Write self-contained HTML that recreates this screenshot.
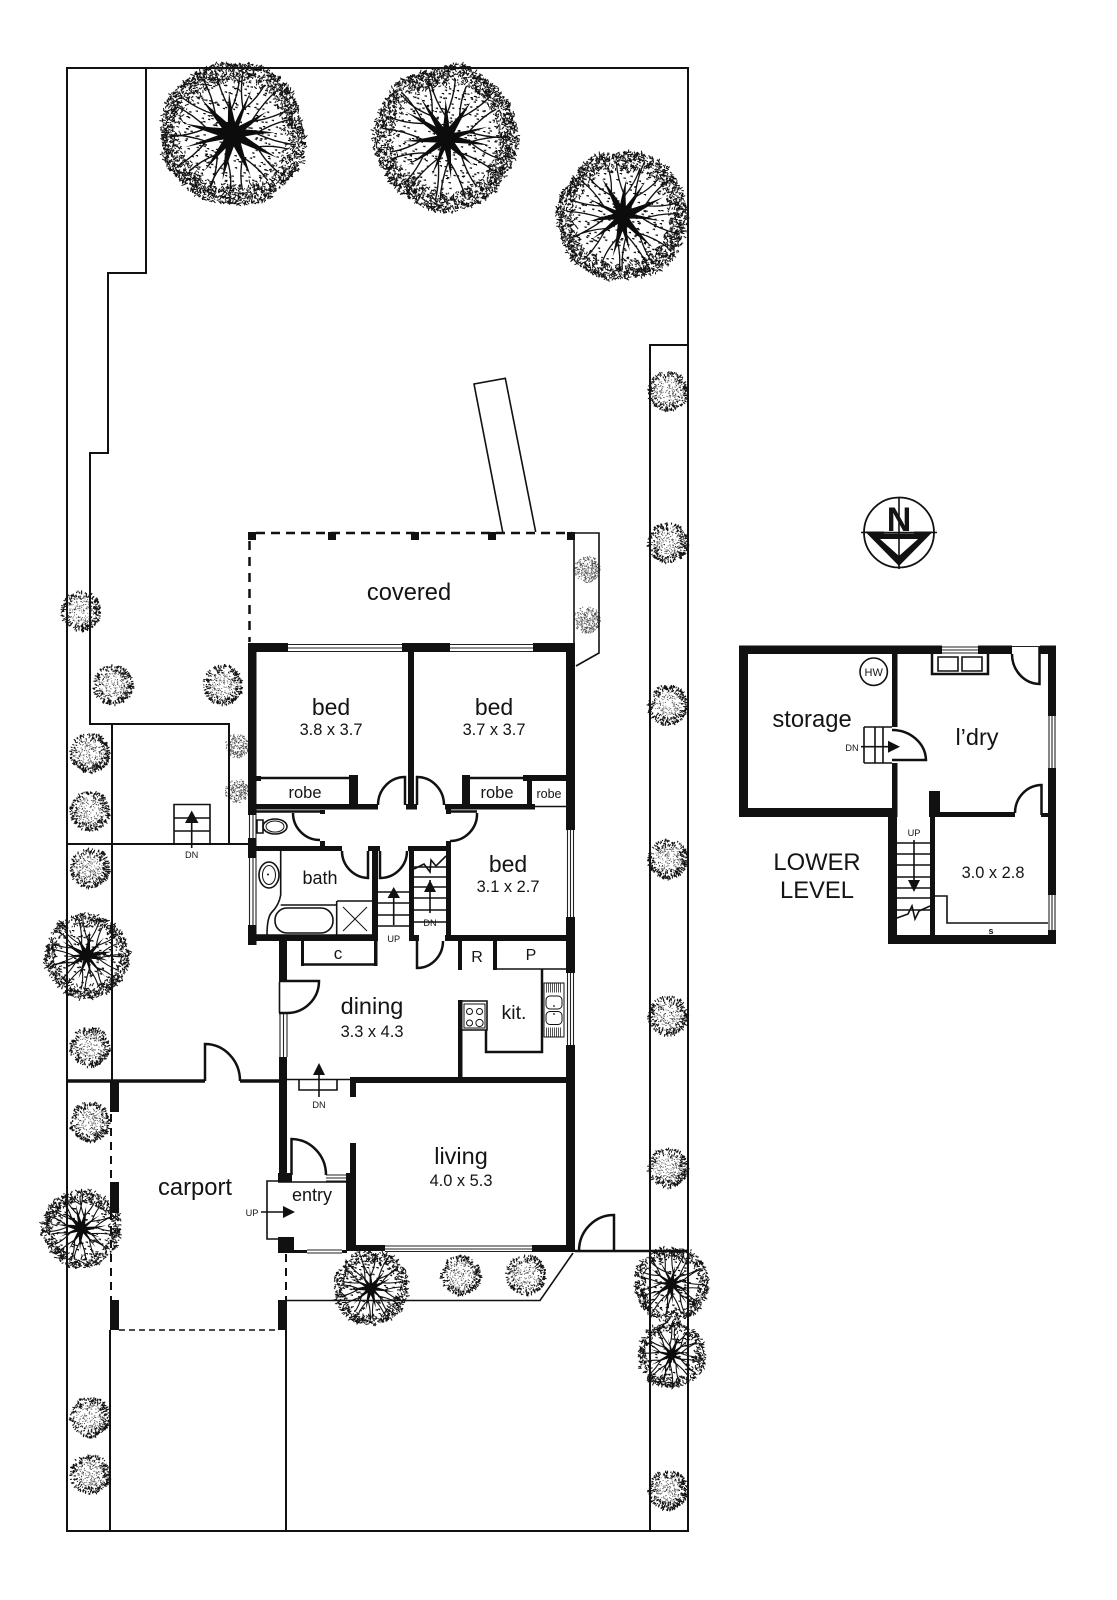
<!DOCTYPE html>
<html><head><meta charset="utf-8"><style>
html,body{margin:0;padding:0;background:#fff}
svg{display:block}
text{font-family:"Liberation Sans",Arial,sans-serif;fill:#141414;text-anchor:middle}
.w{fill:#111}
.l{fill:none;stroke:#111;stroke-width:1.6}
.g{fill:none;stroke:#222;stroke-width:1.1}
.s{fill:none;stroke:#111;stroke-width:2}
.m{fill:none;stroke:#111;stroke-width:2.5}
.t{fill:none;stroke:#111;stroke-width:1}
.a{fill:#111}
</style></head><body>
<svg xmlns="http://www.w3.org/2000/svg" width="1117" height="1600" viewBox="0 0 1117 1600">
<rect width="1117" height="1600" fill="#fff"/>
<g id="trees"></g>

<!-- site lines -->
<path class="s" d="M67 68H688V1531H67Z"/>
<path class="s" d="M146 68V273H108V453H90V724H229V844"/>
<path class="s" d="M67 844H248"/>
<path class="s" d="M112 724V1081"/>
<path class="s" d="M110 1330V1531M286 1330V1531"/>
<path class="s" d="M650 1531V345H688"/>
<path class="m" d="M575 1251H688"/>
<path class="l" d="M286 1300.5H540L573 1253"/>
<path class="l" d="M574 533V643M574 533H599V653L576 666"/>
<path class="l" d="M502.7 532L474 384L505.3 378.3L535.7 532"/>
<path d="M67 1081H205M240 1081H279" fill="none" stroke="#111" stroke-width="3.5"/>
<path class="m" d="M205 1081V1044A35 37 0 0 1 240 1081"/>
<path class="m" d="M614 1251V1215A35 36 0 0 0 579 1251"/>

<!-- covered dashes -->
<path d="M256 533H572" fill="none" stroke="#111" stroke-width="2.5" stroke-dasharray="9 6"/>
<path d="M249.5 541V642" fill="none" stroke="#111" stroke-width="2.5" stroke-dasharray="9 7"/>
<rect class="w" x="248" y="532" width="8" height="8"/><rect class="w" x="328" y="532" width="8" height="8"/><rect class="w" x="411" y="532" width="8" height="8"/><rect class="w" x="488" y="532" width="8" height="8"/><rect class="w" x="567" y="532" width="8" height="8"/>

<!-- carport -->
<rect class="w" x="110" y="1081" width="9" height="31"/><rect class="w" x="110" y="1182" width="9" height="31"/><rect class="w" x="110" y="1300" width="9" height="30"/>
<rect class="w" x="278" y="1300" width="9" height="30"/>
<path d="M111 1114V1300" fill="none" stroke="#111" stroke-width="2" stroke-dasharray="8 6"/>
<path d="M119 1330H278" fill="none" stroke="#111" stroke-width="1.5" stroke-dasharray="6 4"/>
<path d="M286 1254V1300" fill="none" stroke="#111" stroke-width="2" stroke-dasharray="8 6"/>

<!-- upper-floor walls -->
<g class="w">
<rect x="248" y="643" width="40" height="9"/><rect x="402" y="643" width="48" height="9"/><rect x="533" y="643" width="42" height="9"/>
<rect x="248" y="643" width="8.5" height="172"/><rect x="248" y="838" width="8.5" height="20"/><rect x="248" y="925" width="8.5" height="20"/>
<rect x="566" y="643" width="9" height="187"/><rect x="566" y="917" width="9" height="56"/><rect x="566" y="1045" width="9" height="207"/>
<rect x="408" y="650" width="6" height="158"/><rect x="406" y="804" width="11" height="5.5"/>
<rect x="248" y="804" width="130" height="5.5"/><rect x="445" y="804" width="90" height="5.5"/>
<rect x="256" y="776" width="5" height="5"/><rect x="349" y="775" width="9" height="30"/>
<rect x="462" y="775" width="8" height="30"/><rect x="523" y="775" width="43" height="6"/><rect x="527" y="780" width="5" height="25"/>
<rect x="320" y="810" width="5" height="4"/><rect x="248" y="846" width="94" height="5"/><rect x="320" y="841" width="5" height="5"/>
<rect x="446" y="809" width="5" height="5"/><rect x="446" y="841" width="5" height="5"/>
<rect x="368" y="846" width="12" height="5"/><rect x="372" y="846" width="6" height="95"/>
<rect x="408" y="846" width="42" height="5"/><rect x="446" y="846" width="5" height="95"/><rect x="409" y="851" width="5" height="90"/><rect x="409" y="935" width="10" height="6"/>
<rect x="248" y="935" width="130" height="6"/><rect x="445" y="935" width="130" height="6"/>
<rect x="279" y="941" width="8" height="41"/><rect x="279" y="1057" width="8" height="125"/>
<rect x="350" y="1077" width="225" height="6"/><rect x="350" y="1083" width="6" height="14"/>
<rect x="350" y="1143" width="6" height="30"/><rect x="346" y="1173" width="10" height="77"/>
<rect x="346" y="1245" width="39" height="6"/><rect x="532" y="1245" width="43" height="7"/>
<rect x="278" y="1173" width="14" height="9"/><rect x="278" y="1237" width="16" height="16"/><rect x="294" y="1250" width="13" height="3"/><rect x="342" y="1250" width="5" height="3"/>
<rect x="301" y="941" width="3" height="25"/><rect x="374" y="941" width="3.5" height="25"/>
<rect x="458" y="940" width="4" height="30"/><rect x="493" y="940" width="4" height="30"/>
<rect x="458" y="1000" width="4.5" height="78"/>
</g>

<!-- windows -->
<path class="g" d="M288 644.5H402M288 648H402M288 651.5H402M450 644.5H533M450 648H533M450 651.5H533"/>
<path class="g" d="M249.5 815V838M253 815V838M256 815V838M249.5 858V925M253 858V925M256 858V925"/>
<path class="g" d="M567.5 830V917M570.5 830V917M573.5 830V917M567.5 973V1045M570.5 973V1045M573.5 973V1045"/>
<path class="g" d="M280 1013V1057M283.5 1013V1057M287 1013V1057"/>
<path class="g" d="M385 1246H532M385 1249H532M385 1251.5H532"/>
<path class="g" d="M326 1175H346M326 1178H346M326 1181H346M307 1250H342M307 1253H342"/>

<!-- interior thin lines -->
<path class="m" d="M256 778H349M470 778H523M256 811.5H320M450 811.5H477M301 964.5H377"/>
<path class="l" d="M535 806.5H566M497 969H542M542 969H566"/>
<path class="m" d="M378 805A27 28 0 0 1 405 777V805"/>
<path class="m" d="M417 805V777A27 28 0 0 1 444 805"/>
<path class="m" d="M293 813A27 27 0 0 0 320 840"/>
<path class="m" d="M477 813A27 27 0 0 1 450 841"/>
<path class="m" d="M342 851A27 27 0 0 0 368 878V851"/>
<path class="m" d="M380 851V878A27 27 0 0 0 407 851"/>
<path class="m" d="M417 941V968A26 27 0 0 0 443 941"/>
<path class="l" d="M279.5 982V1013"/>
<path class="m" d="M279 981H319A32 32 0 0 1 287 1013H279"/>
<path class="m" d="M291.5 1175V1139A35 36 0 0 1 326 1175"/>
<path class="l" d="M287 1079.5H350"/>
<path class="l" d="M278 1182H346"/>
<path class="l" d="M279 1181H267V1239H279"/>
<path class="l" d="M299 1079.5V1090H337V1079.5"/>

<!-- stairs main -->
<path class="l" d="M378 892H409M378 903H409M378 915H409M378 926H409"/>
<path class="l" d="M414 867H446M414 877H446M414 887H446M414 898H446M414 910H446M414 922H446"/>
<path class="l" d="M414 869L424 864L430 872L431 860L436 866L446 856"/>
<path class="l" d="M393.7 925V890M430 913V880"/>
<path class="a" d="M393.7 887L387.5 898H400ZM430 880L424 892H436Z"/>
<path class="l" d="M174 844V804.5H210V844M174 818H210M174 831H210M191.7 848V812"/>
<path class="a" d="M191.7 810.5L185 823H198.5Z"/>
<path class="l" d="M319 1097V1067"/><path class="a" d="M319 1063L313 1075H325Z"/>
<path class="l" d="M261 1212H288"/><path class="a" d="M295 1212L283 1206V1218Z"/>

<!-- bath fittings -->
<path class="l" d="M280.7 851V895Q279 905 272 912Q267 917 267 935M280.7 905H336.7M336.7 901V935M337 901H372"/>
<rect class="l" x="275" y="908" width="58" height="25" rx="12"/>
<path class="t" d="M343 907L367 931M367 907L343 931"/>
<path class="l" d="M256 935H372"/>
<ellipse class="l" cx="269" cy="875" rx="10" ry="13"/><ellipse class="t" cx="269" cy="875" rx="6.5" ry="9.5"/><circle class="a" cx="268" cy="874.5" r="1"/>
<path class="l" d="M257 820V833H263V820Z"/><ellipse class="l" cx="275" cy="826.5" rx="12" ry="7.5"/><ellipse class="t" cx="275" cy="826.5" rx="9" ry="5.5"/>

<!-- kitchen -->
<path class="m" d="M542 969V1052H486V1030"/>
<path class="l" d="M462 1001H487V1030H462"/>
<rect class="t" x="464" y="1004" width="21" height="24"/>
<g class="t"><circle cx="469.5" cy="1011.5" r="3"/><circle cx="479.5" cy="1011.5" r="3"/><circle cx="469.5" cy="1023" r="3"/><circle cx="479.5" cy="1023" r="3.6"/></g>
<rect class="t" x="544" y="983" width="20" height="54" stroke-width="1.2"/>
<path d="M546 988H562" fill="none" stroke="#555" stroke-dasharray="1 1" stroke-width="9"/>
<path d="M546 1032H562" fill="none" stroke="#555" stroke-dasharray="1 1" stroke-width="9"/>
<rect class="t" x="546" y="996" width="16" height="13" rx="4"/><rect class="t" x="546" y="1011.5" width="16" height="13" rx="4"/>
<circle class="a" cx="554" cy="1006" r=".9"/><circle class="a" cx="554" cy="1014" r=".9"/>

<!-- lower level -->
<g class="w">
<rect x="739" y="645.5" width="203" height="8.5"/><rect x="978" y="645.5" width="34" height="8.5"/><rect x="1040" y="645.5" width="16" height="8.5"/>
<rect x="739" y="645.5" width="9" height="171.5"/><rect x="739" y="808" width="153" height="9"/>
<rect x="892" y="650" width="5.5" height="77"/><rect x="892" y="763" width="5.5" height="54"/>
<rect x="888" y="817" width="9" height="127"/>
<rect x="930" y="817" width="5" height="127"/><rect x="929" y="791" width="11" height="26"/>
<rect x="940" y="812" width="75" height="5"/>
<rect x="1041" y="813" width="7" height="4"/>
<rect x="1048" y="645.5" width="8" height="70.5"/><rect x="1048" y="768" width="8" height="127"/><rect x="1048" y="930" width="8" height="13"/>
<rect x="888" y="935" width="168" height="9"/>
</g>
<path class="g" d="M942 647H978M942 650H978M942 653H978M1012 646.5H1040"/>
<path class="g" d="M1049 716V768M1052 716V768M1055 716V768M1049 895V930M1052 895V930M1055 895V930"/>
<path class="m" d="M932 654V674H988V654"/>
<path class="l" d="M938 657H958V671H938ZM962 657H982V671H962Z"/>
<path class="m" d="M1012 654A28 30 0 0 0 1039.5 684V647"/>
<path class="m" d="M1015 813A27 28 0 0 1 1041.5 785V815"/>
<path class="m" d="M892 730A34 31 0 0 1 926 760H892"/>
<path class="l" d="M864 727V763M875 727V763M883 727V763M864 727H892M864 763H892"/>
<path class="l" d="M861 746.7H890"/><path class="a" d="M900 746.7L888 740.7V752.7Z"/>
<path class="l" d="M897 843H930M897 854H930M897 865H930M897 877H930M897 888H930M897 898H930M897 910H930"/>
<path class="l" d="M914 840V880"/><path class="a" d="M914 892L908 880H920Z"/>
<path class="l" d="M897 918L908 914L912 906L915 919L919 911L930 906"/>
<path class="l" d="M935 896H947V923H1048"/>
<circle class="l" cx="873.7" cy="671.7" r="13.7"/>

<!-- north -->
<circle cx="899" cy="532.5" r="35" fill="none" stroke="#111" stroke-width="1.8"/>
<path class="l" d="M899 497V569M861 532.5H937"/>
<path class="w" d="M865 531.5H884V533.5H914V531.5H933L899 566ZM880 539L899 556L918 539Z" fill-rule="evenodd"/>
<text x="899" y="531" font-size="34" font-weight="bold">N</text>

<!-- labels -->
<text x="409" y="600" font-size="23.7">covered</text>
<text x="331" y="715" font-size="23">bed</text>
<text x="331" y="735" font-size="16.4">3.8 x 3.7</text>
<text x="494" y="715" font-size="23">bed</text>
<text x="494" y="735" font-size="16.4">3.7 x 3.7</text>
<text x="508" y="872" font-size="23">bed</text>
<text x="508" y="892" font-size="16.4">3.1 x 2.7</text>
<text x="305" y="798" font-size="16.5">robe</text>
<text x="497" y="798" font-size="16.5">robe</text>
<text x="549" y="798" font-size="12.5">robe</text>
<text x="320" y="884" font-size="18">bath</text>
<text x="338" y="959" font-size="17">c</text>
<text x="477" y="962" font-size="16">R</text>
<text x="531" y="960" font-size="16">P</text>
<text x="372" y="1014" font-size="23.5">dining</text>
<text x="372" y="1037" font-size="16.4">3.3 x 4.3</text>
<text x="514" y="1019" font-size="19.5">kit.</text>
<text x="461" y="1164" font-size="23.5">living</text>
<text x="461" y="1186" font-size="16.4">4.0 x 5.3</text>
<text x="312" y="1201" font-size="18">entry</text>
<text x="195" y="1195" font-size="23.8">carport</text>
<text x="812" y="727" font-size="23.8">storage</text>
<text x="977" y="745" font-size="23.5">l’dry</text>
<text x="817" y="870" font-size="23.8">LOWER</text>
<text x="817" y="898" font-size="23.8">LEVEL</text>
<text x="993" y="878" font-size="16.4">3.0 x 2.8</text>
<text x="991" y="934" font-size="9" font-weight="bold">s</text>
<text x="873.7" y="676" font-size="11">HW</text>
<text x="393.7" y="942" font-size="9.2">UP</text>
<text x="430" y="926" font-size="9.2">DN</text>
<text x="191.7" y="858" font-size="9.2">DN</text>
<text x="319" y="1108" font-size="9.2">DN</text>
<text x="852" y="751" font-size="9.2">DN</text>
<text x="914" y="836" font-size="9.2">UP</text>
<text x="252" y="1216" font-size="9.2">UP</text>
</svg>
<script>
(function(){
var seed=12345;function R(){seed=(seed*16807)%2147483647;return seed/2147483647}
var g=document.getElementById('trees'),out=[];
function f(n){return n.toFixed(1)}
function big(cx,cy,r){
 var d='',i,a,rr;
 var nb=[];for(i=0;i<7;i++)nb.push(R()*6.28);
 function edge(a){var e=1;for(var k=0;k<7;k++)e+=.009*Math.sin((k+2)*a+nb[k]);return r*e}
 var n=Math.round(r*r*0.46);
 for(i=0;i<n;i++){a=R()*6.283;var e=edge(a);rr=e*(.7+.3*Math.pow(R(),.6));
  var x=cx+Math.cos(a)*rr,y=cy+Math.sin(a)*rr,t=R()*6.28,l=1.2+R()*2.6;
  d+='M'+f(x)+' '+f(y)+'l'+f(Math.cos(t)*l)+' '+f(Math.sin(t)*l);}
 out.push('<path d="'+d+'" fill="none" stroke="#111" stroke-width="1"/>');
 d='';n=Math.round(r*r*0.05);
 for(i=0;i<n;i++){a=R()*6.283;rr=r*.72*Math.sqrt(R());if(rr<r*.15)continue;
  var x=cx+Math.cos(a)*rr,y=cy+Math.sin(a)*rr;d+='M'+f(x)+' '+f(y)+'h1.8v1';}
 out.push('<path d="'+d+'" fill="none" stroke="#111" stroke-width="1.1"/>');
 var c=11,fill='',line='',a0=R();
 for(i=0;i<c;i++){a=a0+i*6.283/c+(R()-.5)*.2;
  var w=r*(.045+.035*R()),L=r*(.5+.2*R()),bend=(R()-.5)*.25;
  var mx=cx+Math.cos(a+bend)*L*.5,my=cy+Math.sin(a+bend)*L*.5,ex=cx+Math.cos(a)*L,ey=cy+Math.sin(a)*L;
  var nx=-Math.sin(a)*w,ny=Math.cos(a)*w;
  fill+='M'+f(cx+nx)+' '+f(cy+ny)+'Q'+f(mx+nx*.4)+' '+f(my+ny*.4)+' '+f(ex)+' '+f(ey)+'Q'+f(mx-nx*.4)+' '+f(my-ny*.4)+' '+f(cx-nx)+' '+f(cy-ny)+'Z';
  var fx=cx+Math.cos(a)*L*.55,fy=cy+Math.sin(a)*L*.55;
  for(var s=-1;s<=1;s+=2){var a2=a+s*(.17+R()*.1),L2=r*(.78+.12*R());
   var hx=cx+Math.cos(a2)*L2,hy=cy+Math.sin(a2)*L2;
   line+='M'+f(fx)+' '+f(fy)+'Q'+f((fx+hx)/2+s*Math.cos(a+1.57)*r*.05)+' '+f((fy+hy)/2+s*Math.sin(a+1.57)*r*.05)+' '+f(hx)+' '+f(hy);}
 }
 out.push('<path d="'+fill+'" fill="#0c0c0c"/>');
 out.push('<path d="'+line+'" fill="none" stroke="#111" stroke-width="'+f(Math.max(1.1,r*.02))+'"/>');
 out.push('<circle cx="'+cx+'" cy="'+cy+'" r="'+f(r*.1)+'" fill="#0c0c0c"/>');
}
function small(cx,cy,r,light){
 var d='',n=Math.round(r*r*(light?2.8:2.2)),i;
 var sw=light?.9:1.05,th=light?.75:1;
 for(i=0;i<n;i++){var a=R()*6.283,u=Math.sqrt(R()),rr=r*u*(1+.02*Math.sin(5*a));
  var lr=.5+.5*Math.cos(a-.5);
  var p=light?(.38+.45*u*lr):(u*u*u*(.5+.5*lr)+.05);
  if(R()>p)continue;
  var x=cx+Math.cos(a)*rr,y=cy+Math.sin(a)*rr,l=light?.9:(u>.6?1+R()*1.6:.8);
  d+='M'+f(x)+' '+f(y)+'l'+f(Math.cos(a)*l)+' '+f(Math.sin(a)*l);}
 out.push('<path d="'+d+'" fill="none" stroke="#111" stroke-width="'+sw+'" opacity="'+th+'"/>');
 d='';n=Math.round(r*r*.45);
 for(i=0;i<n;i++){var a=R()*6.283,rr=r*.8*Math.sqrt(R());d+='M'+f(cx+Math.cos(a)*rr)+' '+f(cy+Math.sin(a)*rr)+'h1';}
 out.push('<path d="'+d+'" fill="none" stroke="#222" stroke-width=".9" opacity=".7"/>');
}
[[233,134,72],[446,138,72],[622.5,216,65],[87,956,42],[81.7,1229,39],[371,1288,37],[671.5,1284,37],[671.5,1355,33]].forEach(function(t){big(t[0],t[1],t[2])});
[[81,611],[113,685],[223,685],[90,753],[90,811],[90,868],[90,1047],[90,1122],[90,1417],[90,1474],[461,1275],[526,1275],[668,391],[668,543],[668,705],[668,859],[668,1016],[668,1168],[668,1490]].forEach(function(t){small(t[0],t[1],19,false)});
[[237,746,11.5],[237,791,11.5],[587,569,13],[587,620,13]].forEach(function(t){small(t[0],t[1],t[2],true)});
g.innerHTML=out.join('');
})();
</script>
</body></html>
